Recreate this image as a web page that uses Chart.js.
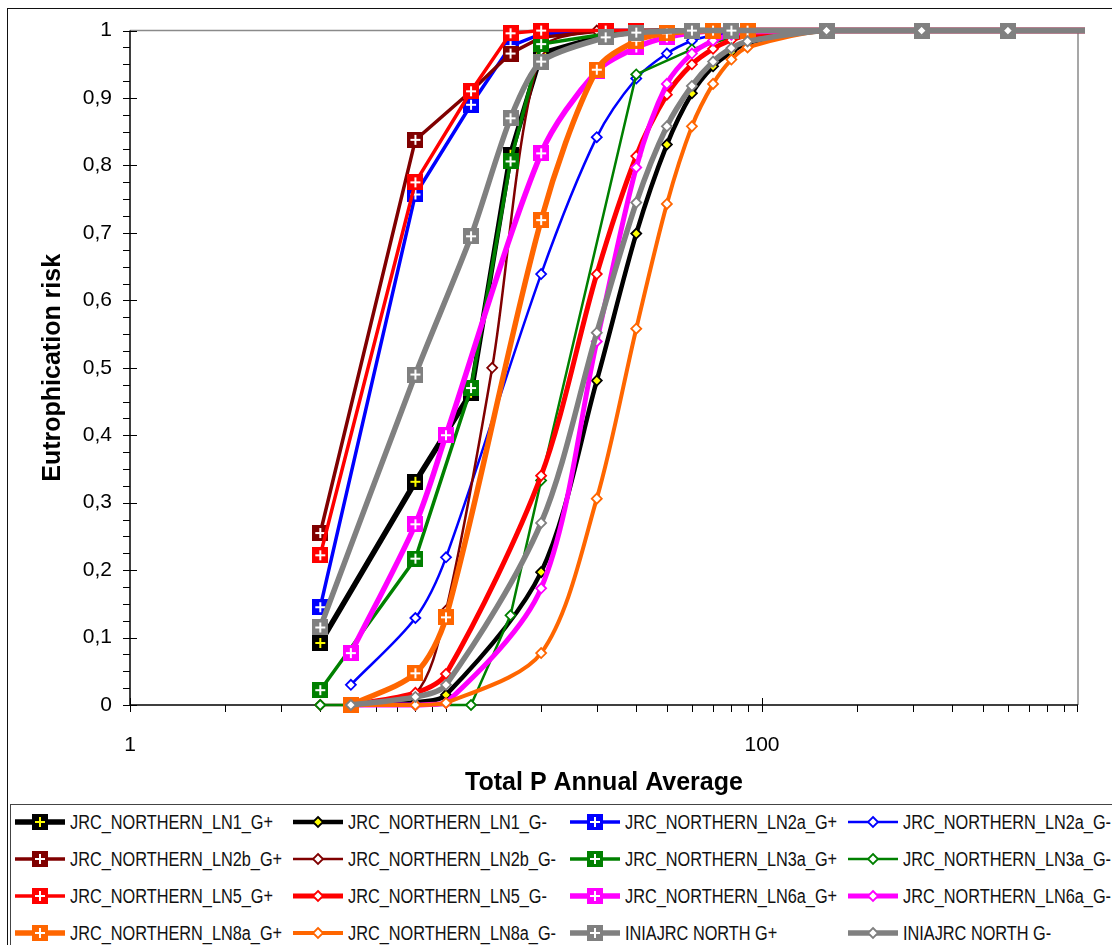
<!DOCTYPE html>
<html>
<head>
<meta charset="utf-8">
<script src="https://cdn.jsdelivr.net/npm/chart.js@4.4.0/dist/chart.umd.min.js"></script>
<style>
  body { margin: 0; background: #fff; width: 1112px; height: 945px; overflow: hidden; position: relative; }
  #frame { position: absolute; left: 7px; top: 8px; width: 1300px; height: 1100px; border: 1.5px solid #111; box-sizing: border-box; }
  #c { position: absolute; left: 0; top: 0; }
  #legend { position: absolute; left: 10px; top: 804px; width: 1300px; height: 300px; border: 1px solid #444;
            background: #fff; font-family: "Liberation Sans", Arial, sans-serif;
            font-size: 20px; color: #111; }
  .item { position: absolute; height: 30px; }
  .item canvas { position: absolute; left: 0; top: 0; }
  .item span { position: absolute; left: 55px; top: 0; line-height: 30px; white-space: nowrap;
               transform: scaleX(0.815); transform-origin: 0 50%; }
</style>
</head>
<body>
<div id="frame"></div>
<canvas id="c" width="1112" height="804"></canvas>
<div id="legend"></div>
<script>
// x positions (Total P) of the points
const xGplus  = [4, 8, 12, 16, 20, 32, 40, 60, 80, 160, 320, 600, 1200];
const xGplusB = [5, 8, 10, 20, 30, 40, 50, 70, 90, 160, 320, 600, 1200];
const xGminus = [5, 8, 10, 20, 30, 40, 50, 60, 70, 80, 90, 160, 320, 600, 1200];
const xLn2bMinus = [4, 5, 8, 10, 14, 20, 30, 40, 160, 320, 600, 1200];
const xLn3aMinus = [4, 8, 12, 16, 20, 40, 60, 80, 160, 320, 600, 1200];

// eutrophication risk
const ln1Gplus   = [0.092, 0.331, 0.463, 0.816, 0.966, 0.993, 0.998, 1, 1, 1, 1, 1, 1];
const ln1Gminus  = [0, 0.004, 0.015, 0.197, 0.481, 0.699, 0.831, 0.907, 0.947, 0.968, 0.982, 1, 1, 1, 1];
const ln2aGplus  = [0.145, 0.757, 0.89, 0.977, 0.995, 1, 1, 1, 1, 1, 1, 1, 1];
const ln2aGminus = [0.03, 0.129, 0.219, 0.639, 0.842, 0.929, 0.966, 0.985, 0.993, 0.997, 1, 1, 1, 1, 1];
const ln2bGplus  = [0.255, 0.838, 0.91, 0.966, 0.99, 1, 1, 1, 1, 1, 1, 1, 1];
const ln2bGminus = [0, 0, 0.017, 0.14, 0.5, 0.97, 1, 1, 1, 1, 1, 1];
const ln3aGplus  = [0.022, 0.217, 0.47, 0.806, 0.98, 0.995, 1, 1, 1, 1, 1, 1, 1];
const ln3aGminus = [0, 0, 0, 0.133, 0.333, 0.935, 0.972, 0.99, 1, 1, 1, 1];
const ln5Gplus   = [0.222, 0.775, 0.91, 0.996, 1, 1, 1, 1, 1, 1, 1, 1, 1];
const ln5Gminus  = [0, 0.018, 0.046, 0.34, 0.639, 0.814, 0.905, 0.95, 0.973, 0.986, 0.993, 1, 1, 1, 1];
const ln6aGplus  = [0.077, 0.268, 0.4, 0.818, 0.94, 0.975, 0.99, 1, 1, 1, 1, 1, 1];
const ln6aGminus = [0, 0, 0.003, 0.173, 0.539, 0.797, 0.921, 0.966, 0.985, 0.994, 0.998, 1, 1, 1, 1];
const ln8aGplus  = [0, 0.047, 0.13, 0.719, 0.942, 0.985, 0.996, 1, 1, 1, 1, 1, 1];
const ln8aGminus = [0, 0, 0.003, 0.077, 0.306, 0.558, 0.743, 0.858, 0.921, 0.957, 0.975, 1, 1, 1, 1];
const iniaGplus  = [0.115, 0.49, 0.695, 0.87, 0.954, 0.99, 0.997, 1, 1, 1, 1, 1, 1];
const iniaGminus = [0, 0.012, 0.03, 0.27, 0.552, 0.745, 0.858, 0.918, 0.954, 0.974, 0.984, 1, 1, 1, 1];

// axis ticks
const xTickValues = [1, 100];
const xTickLabels = ['1', '100'];
const yTickValues = [0, 0.1, 0.2, 0.3, 0.4, 0.5, 0.6, 0.7, 0.8, 0.9, 1];
const yTickLabels = ['0', '0,1', '0,2', '0,3', '0,4', '0,5', '0,6', '0,7', '0,8', '0,9', '1'];

// series look (sq = square marker with cross, dia = diamond)
const series = [
  { label: 'JRC_NORTHERN_LN1_G+',  xs: xGplus,     ys: ln1Gplus,   color: '#000000', width: 5.5, mark: 'sq',  inner: '#FFFF00', smooth: 0 },
  { label: 'JRC_NORTHERN_LN1_G-',  xs: xGminus,    ys: ln1Gminus,  color: '#000000', width: 4.5, mark: 'dia', inner: '#FFFF00', smooth: 0.3 },
  { label: 'JRC_NORTHERN_LN2a_G+', xs: xGplus,     ys: ln2aGplus,  color: '#0000FF', width: 3.5, mark: 'sq',  inner: '#FFFFFF', smooth: 0 },
  { label: 'JRC_NORTHERN_LN2a_G-', xs: xGminus,    ys: ln2aGminus, color: '#0000FF', width: 2.5, mark: 'dia', inner: '#FFFFFF', smooth: 0.3 },
  { label: 'JRC_NORTHERN_LN2b_G+', xs: xGplus,     ys: ln2bGplus,  color: '#800000', width: 3.5, mark: 'sq',  inner: '#FFFFFF', smooth: 0 },
  { label: 'JRC_NORTHERN_LN2b_G-', xs: xLn2bMinus, ys: ln2bGminus, color: '#800000', width: 2.5, mark: 'dia', inner: '#FFFFFF', smooth: 0.3 },
  { label: 'JRC_NORTHERN_LN3a_G+', xs: xGplus,     ys: ln3aGplus,  color: '#008000', width: 3.5, mark: 'sq',  inner: '#FFFFFF', smooth: 0 },
  { label: 'JRC_NORTHERN_LN3a_G-', xs: xLn3aMinus, ys: ln3aGminus, color: '#008000', width: 2.5, mark: 'dia', inner: '#FFFFFF', smooth: 0 },
  { label: 'JRC_NORTHERN_LN5_G+',  xs: xGplus,     ys: ln5Gplus,   color: '#FF0000', width: 3.5, mark: 'sq',  inner: '#FFFFFF', smooth: 0 },
  { label: 'JRC_NORTHERN_LN5_G-',  xs: xGminus,    ys: ln5Gminus,  color: '#FF0000', width: 5,   mark: 'dia', inner: '#FFFFFF', smooth: 0.3 },
  { label: 'JRC_NORTHERN_LN6a_G+', xs: xGplusB,    ys: ln6aGplus,  color: '#FF00FF', width: 5.5, mark: 'sq',  inner: '#FFFFFF', smooth: 0.3 },
  { label: 'JRC_NORTHERN_LN6a_G-', xs: xGminus,    ys: ln6aGminus, color: '#FF00FF', width: 5,   mark: 'dia', inner: '#FFFFFF', smooth: 0.3 },
  { label: 'JRC_NORTHERN_LN8a_G+', xs: xGplusB,    ys: ln8aGplus,  color: '#FF6600', width: 5.5, mark: 'sq',  inner: '#FFFFFF', smooth: 0.3 },
  { label: 'JRC_NORTHERN_LN8a_G-', xs: xGminus,    ys: ln8aGminus, color: '#FF6600', width: 4,   mark: 'dia', inner: '#FFFFFF', smooth: 0.3 },
  { label: 'INIAJRC NORTH G+',     xs: xGplus,     ys: iniaGplus,  color: '#808080', width: 5.5, mark: 'sq',  inner: '#FFFFFF', smooth: 0.25 },
  { label: 'INIAJRC NORTH G-',     xs: xGminus,    ys: iniaGminus, color: '#808080', width: 5.5, mark: 'dia', inner: '#FFFFFF', smooth: 0.3 }
];

function squareMarker(fill, cross) {
  const c = document.createElement('canvas');
  c.width = 16; c.height = 16;
  const g = c.getContext('2d');
  g.fillStyle = fill;
  g.fillRect(0, 0, 16, 16);
  g.fillStyle = cross;
  g.fillRect(7, 3, 2, 10);
  g.fillRect(3, 7, 10, 2);
  return c;
}

const datasets = series.map((s, i) => ({
  label: s.label,
  data: s.xs.map((x, k) => ({ x: x, y: s.ys[k] })),
  borderColor: s.color,
  borderWidth: s.width,
  tension: s.smooth,
  fill: false,
  pointStyle: s.mark === 'sq' ? squareMarker(s.color, s.inner) : 'rectRot',
  pointRadius: s.mark === 'sq' ? 8 : 5,
  pointBackgroundColor: s.mark === 'sq' ? s.color : s.inner,
  pointBorderColor: s.color,
  pointBorderWidth: 1.8,
  order: -i,
  clip: { left: 12, top: 12, right: 7, bottom: 12 }
}));

// Excel style axes: black axis lines, minor/major tick marks, grey plot frame
const axisDeco = {
  id: 'axisDeco',
  beforeDatasetsDraw(chart) {
    const { ctx, chartArea: a, scales: { x, y } } = chart;
    ctx.save();
    ctx.strokeStyle = '#8a8a8a';
    ctx.lineWidth = 1.5;
    ctx.beginPath();
    ctx.moveTo(a.left, a.top); ctx.lineTo(a.right, a.top); ctx.lineTo(a.right, a.bottom);
    ctx.stroke();

    ctx.strokeStyle = '#000';
    ctx.lineWidth = 1.5;
    ctx.beginPath();
    ctx.moveTo(a.left, a.top); ctx.lineTo(a.left, a.bottom); ctx.lineTo(a.right, a.bottom);
    ctx.stroke();

    ctx.lineWidth = 1;
    ctx.beginPath();
    for (let i = 0; i <= 40; i++) {
      const py = Math.round(y.getPixelForValue(i * 0.025)) + 0.5;
      ctx.moveTo(a.left - 7, py);
      ctx.lineTo(i % 4 === 0 ? a.left + 7 : a.left, py);
    }
    [1, 10, 100].forEach(d => {
      for (let m = 1; m <= 9; m++) {
        const v = d * m;
        const px = Math.round(x.getPixelForValue(v)) + 0.5;
        const major = xTickValues.includes(v);
        ctx.moveTo(px, major ? a.bottom - 7 : a.bottom);
        ctx.lineTo(px, a.bottom + 7);
      }
    });
    const pe = Math.round(x.getPixelForValue(1000)) - 0.5;
    ctx.moveTo(pe, a.bottom); ctx.lineTo(pe, a.bottom + 7);
    ctx.stroke();
    ctx.restore();
  }
};

Chart.defaults.font.family = '"Liberation Sans", Arial, sans-serif';
Chart.defaults.color = '#000';

new Chart(document.getElementById('c').getContext('2d'), {
  type: 'line',
  data: { datasets: datasets },
  options: {
    responsive: false,
    animation: false,
    layout: { padding: { left: 0, top: 29, right: 34, bottom: 0 } },
    plugins: { legend: { display: false }, tooltip: { enabled: false } },
    scales: {
      x: {
        type: 'logarithmic',
        min: 1,
        max: 1000,
        grid: { display: false, drawTicks: false },
        border: { display: false },
        afterBuildTicks: s => { s.ticks = xTickValues.map(v => ({ value: v })); },
        ticks: { autoSkip: false, maxRotation: 0, padding: 28, font: { size: 21 },
                 callback: (v, i) => xTickLabels[i] },
        title: { display: true, text: 'Total P Annual Average', font: { size: 25, weight: 'bold' },
                 padding: { top: 0, bottom: 6 } },
        afterFit: s => { s.height = 99; }
      },
      y: {
        type: 'linear',
        min: 0,
        max: 1,
        grid: { display: false, drawTicks: false },
        border: { display: false },
        afterBuildTicks: s => { s.ticks = yTickValues.map(v => ({ value: v })); },
        ticks: { padding: 18, font: { size: 21 }, callback: (v, i) => yTickLabels[i] },
        title: { display: true, text: 'Eutrophication risk', font: { size: 25, weight: 'bold' },
                 padding: { top: 38, bottom: 0 } },
        afterFit: s => { s.width = 130; }
      }
    }
  },
  plugins: [axisDeco]
});

// legend: 4 columns, sample line + marker, then the name
const legend = document.getElementById('legend');
series.forEach((s, i) => {
  const col = i % 4, row = Math.floor(i / 4);
  const item = document.createElement('div');
  item.className = 'item';
  item.style.left = (4 + col * 277.7) + 'px';
  item.style.top = (2 + row * 37) + 'px';
  const cv = document.createElement('canvas');
  cv.width = 52; cv.height = 30;
  const g = cv.getContext('2d');
  g.strokeStyle = s.color;
  g.lineWidth = s.width;
  g.beginPath(); g.moveTo(0, 15); g.lineTo(50, 15); g.stroke();
  if (s.mark === 'sq') {
    g.drawImage(squareMarker(s.color, s.inner), 17, 7);
  } else {
    g.fillStyle = s.inner;
    g.lineWidth = 1.8;
    g.beginPath();
    g.moveTo(25, 10); g.lineTo(30, 15); g.lineTo(25, 20); g.lineTo(20, 15); g.closePath();
    g.fill(); g.stroke();
  }
  const txt = document.createElement('span');
  txt.textContent = s.label;
  item.appendChild(cv);
  item.appendChild(txt);
  legend.appendChild(item);
});
</script>
</body>
</html>
